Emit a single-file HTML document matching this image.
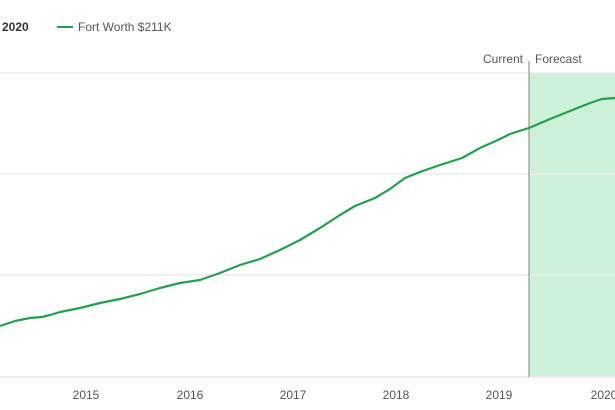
<!DOCTYPE html>
<html><head><meta charset="utf-8"><style>
html,body{margin:0;padding:0;background:#fff;}
svg{display:block;font-family:"Liberation Sans",sans-serif;}
</style></head><body>
<svg width="615" height="410" xmlns="http://www.w3.org/2000/svg">
<rect x="529" y="73" width="86" height="303" fill="#ccf0d8"/>
<line x1="0" y1="73" x2="615" y2="73" stroke="#ececec" stroke-width="1.5"/>
<line x1="0" y1="174" x2="615" y2="174" stroke="#ececec" stroke-width="1.5"/>
<line x1="0" y1="275" x2="615" y2="275" stroke="#ececec" stroke-width="1.5"/>
<line x1="0" y1="377" x2="615" y2="377" stroke="#ececec" stroke-width="2"/>
<line x1="529" y1="61" x2="529" y2="377" stroke="#a8a8a8" stroke-width="1.5"/>
<text x="2" y="31" font-size="12" font-weight="bold" fill="#333">2020</text>
<line x1="57" y1="27" x2="73" y2="27" stroke="#22a050" stroke-width="2"/>
<text x="78" y="31" font-size="12" fill="#555">Fort Worth $211K</text>
<text x="523" y="63" font-size="12" fill="#555" text-anchor="end">Current</text>
<text x="535" y="63" font-size="12" fill="#555">Forecast</text>
<polyline fill="none" stroke="#22a050" stroke-width="2.2" stroke-linejoin="round" points="0,326 15,321 30,318 42,317 50,315 60,312 80,308 100,303 120,299 140,294 160,288 180,283 200,280 220,273 240,265 260,259 280,250 300,240 320,228 340,215 355,206 375,198 390,189 405,178 420,172 440,165 462,158 480,148 500,139 510,134 529,128 550,119 575,109 590,103 602,99 615,98"/>
<g font-size="12" fill="#555" text-anchor="middle">
<text x="86" y="399">2015</text>
<text x="190" y="399">2016</text>
<text x="293" y="399">2017</text>
<text x="396" y="399">2018</text>
<text x="499" y="399">2019</text>
<text x="604" y="399">2020</text>
</g>
</svg>
</body></html>
